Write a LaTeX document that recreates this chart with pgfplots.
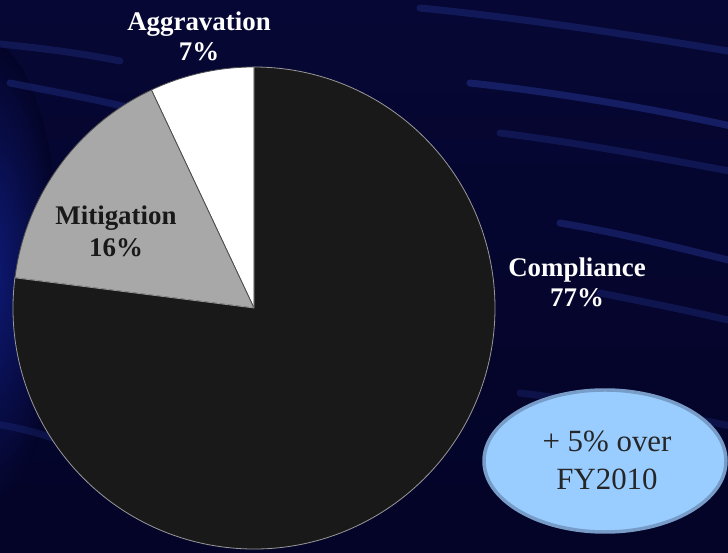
\documentclass[border=0pt]{standalone}
\usepackage{fontspec}
\setmainfont{Liberation Serif}
\usepackage{pgfplots}
\usepackage{pgfplotstable}
\pgfplotsset{compat=1.18}

\definecolor{bgbase}{RGB}{4,4,40}
\definecolor{bgtop}{RGB}{6,7,52}
\definecolor{glow}{RGB}{14,26,118}
\definecolor{streak}{RGB}{40,60,160}
\definecolor{compl}{RGB}{25,25,25}
\definecolor{mitig}{RGB}{168,168,168}
\definecolor{bubble}{RGB}{153,204,255}
\definecolor{bubbleedge}{RGB}{120,156,200}

% shares in percent, drawn counter-clockwise from 12 o'clock
\pgfplotstableread{
label       value
Aggravation 7
Mitigation  16
Compliance  77
}\piedata

\pgfplotstablegetelem{0}{value}\of\piedata \let\vAgg\pgfplotsretval
\pgfplotstablegetelem{1}{value}\of\piedata \let\vMit\pgfplotsretval
\pgfplotstablegetelem{2}{value}\of\piedata \let\vCom\pgfplotsretval
\pgfmathsetmacro\aStart{90}
\pgfmathsetmacro\aOne{90+3.6*\vAgg}
\pgfmathsetmacro\aTwo{\aOne+3.6*\vMit}
\pgfmathsetmacro\aEnd{\aTwo+3.6*\vCom}

\tikzset{streakline/.style={streak, line width=7pt, line cap=round}}

\begin{document}
\begin{tikzpicture}
\begin{axis}[
    x=1bp, y=1bp,
    xmin=0, xmax=728, ymin=0, ymax=553,
    hide axis,
]
% background
\shade[top color=bgtop, bottom color=bgbase] (axis cs:0,0) rectangle (axis cs:728,553);
\shade[inner color=glow, outer color=bgbase] (axis cs:-10,280) ellipse[x radius=70bp, y radius=230bp];
% streaks, right side
\draw[streakline, opacity=0.35] (axis cs:420,545) .. controls (axis cs:520,535) and (axis cs:620,520) .. (axis cs:740,500);
\draw[streakline, opacity=0.45] (axis cs:470,470) .. controls (axis cs:560,460) and (axis cs:650,445) .. (axis cs:740,425);
\draw[streakline, opacity=0.30] (axis cs:500,420) .. controls (axis cs:580,410) and (axis cs:660,395) .. (axis cs:740,380);
\draw[streakline, opacity=0.40] (axis cs:560,330) .. controls (axis cs:620,320) and (axis cs:680,305) .. (axis cs:740,290);
\draw[streakline, opacity=0.30] (axis cs:600,260) .. controls (axis cs:650,250) and (axis cs:700,240) .. (axis cs:740,230);
\draw[streakline, opacity=0.25] (axis cs:520,160) .. controls (axis cs:600,150) and (axis cs:670,140) .. (axis cs:740,125);
% streaks, left side
\draw[streakline, opacity=0.30] (axis cs:-10,510) .. controls (axis cs:40,505) and (axis cs:80,500) .. (axis cs:120,492);
\draw[streakline, opacity=0.35] (axis cs:10,470) .. controls (axis cs:50,462) and (axis cs:90,455) .. (axis cs:130,445);
\draw[streakline, opacity=0.25] (axis cs:-10,130) .. controls (axis cs:20,125) and (axis cs:40,120) .. (axis cs:60,112);

% pie
\draw[fill=white, draw=black!70, line width=0.8pt]
  (axis cs:254,245) -- ++(\aStart:241bp) arc[start angle=\aStart, end angle=\aOne, radius=241bp] -- cycle;
\draw[fill=mitig, draw=black!70, line width=0.8pt]
  (axis cs:254,245) -- ++(\aOne:241bp) arc[start angle=\aOne, end angle=\aTwo, radius=241bp] -- cycle;
\draw[fill=compl, draw=black!40, line width=0.8pt]
  (axis cs:254,245) -- ++(\aTwo:241bp) arc[start angle=\aTwo, end angle=\aEnd, radius=241bp] -- cycle;

% labels
\node[text=white, font=\fontsize{27}{30}\selectfont\bfseries, align=center]
  at (axis cs:199,517) {Aggravation\\7\%};
\node[text=compl, font=\fontsize{27}{32}\selectfont\bfseries, align=center]
  at (axis cs:116,322) {Mitigation\\16\%};
\node[text=white, font=\fontsize{27}{30}\selectfont\bfseries, align=center]
  at (axis cs:577,271) {Compliance\\77\%};

% callout bubble
\draw[fill=bubble, draw=bubbleedge, line width=3.5pt]
  (axis cs:605,92) ellipse[x radius=121bp, y radius=71bp];
\node[text=black!85, font=\fontsize{31}{38}\selectfont, align=center]
  at (axis cs:607,93) {+ 5\% over\\FY2010};
\end{axis}
\end{tikzpicture}
\end{document}
